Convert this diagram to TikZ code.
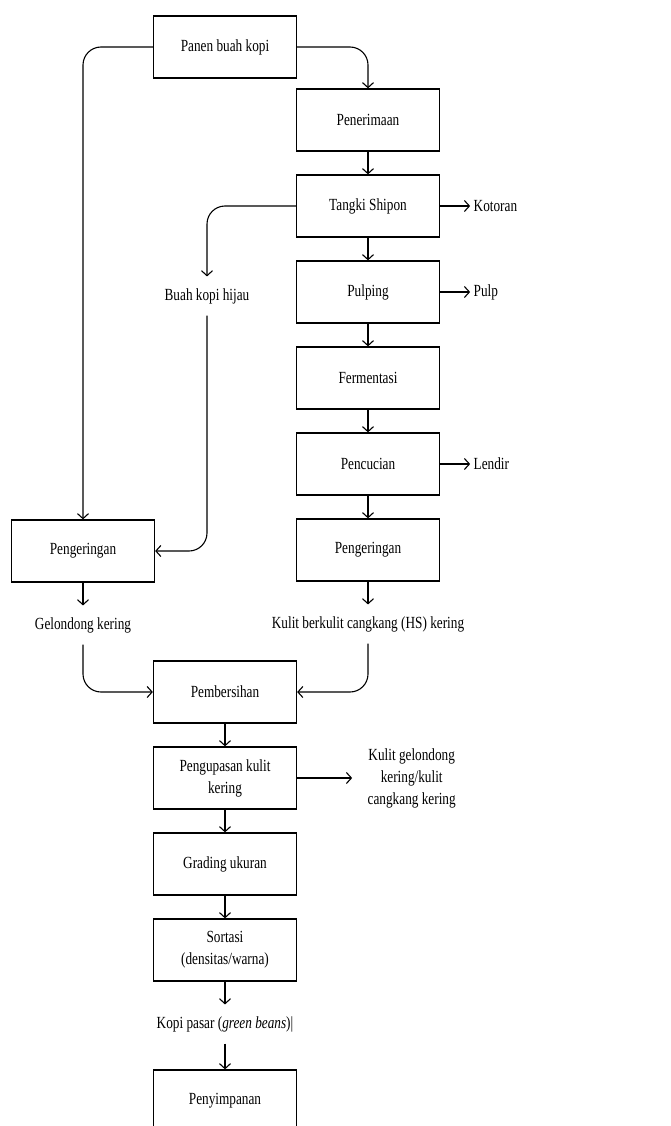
\documentclass[tikz,border=0pt]{standalone}
\usepackage{fontspec}
\setmainfont{Liberation Serif}[FakeStretch=0.78]
\usetikzlibrary{positioning,arrows.meta}

\begin{document}
\begin{tikzpicture}[x=1pt,y=-1pt,node distance=86pt,on grid,
   >={Straight Barb[length=5pt,width=11pt]},line width=1.1pt,
   every node/.style={font=\fontsize{17}{22}\selectfont},
   proc/.style={draw,line width=1.3pt,minimum width=143pt,minimum height=62pt,align=center,inner sep=2pt},
   txt/.style={minimum height=38pt,inner sep=0pt,align=center},
   side/.style={anchor=west,inner sep=3pt,align=center}]
   \clip (0,0) rectangle (670,1126);
   % wet process column
   \node[proc] (harvest) at (225,47) {Panen buah kopi};
   \node[proc] (receive) at (368,120) {Penerimaan};
   \node[proc] (tank) [below=of receive] {Tangki Shipon};
   \node[proc] (pulping) [below=of tank] {Pulping};
   \node[proc] (ferment) [below=of pulping] {Fermentasi};
   \node[proc] (wash) [below=of ferment] {Pencucian};
   \node[proc] (dry2) [below=of wash] {Pengeringan};
   \node[txt] (hs) [below=74pt of dry2] {Kulit berkulit cangkang (HS) kering};
   % dry process column
   \node[txt] (green) at (207,296) {Buah kopi hijau};
   \node[proc] (dry1) at (83,551) {Pengeringan};
   \node[txt] (log) [below=74pt of dry1] {Gelondong kering};
   % common part
   \node[proc] (clean) at (225,692) {Pembersihan};
   \node[proc] (peel) [below=of clean] {Pengupasan kulit\\kering};
   \node[proc] (grade) [below=of peel] {Grading ukuran};
   \node[proc] (sort) [below=of grade] {Sortasi\\(densitas/warna)};
   \node[txt] (market) [below=74pt of sort] {Kopi pasar (\textit{green beans})|};
   \node[proc] (store) [below=77pt of market] {Penyimpanan};
   % by-products
   \node[side] (dirt) at ([xshift=30pt]tank.east) {Kotoran};
   \node[side] (pulp) at ([xshift=30pt]pulping.east) {Pulp};
   \node[side] (slime) at ([xshift=30pt]wash.east) {Lendir};
   \node[side,inner xsep=15pt] (husk) at ([xshift=55pt]peel.east) {Kulit gelondong\\kering/kulit\\cangkang kering};

   \draw[->,rounded corners=18pt] (harvest.west) -| (dry1.north);
   \draw[->,rounded corners=18pt] (harvest.east) -| (receive.north);
   \draw[->,rounded corners=18pt] (tank.west) -| (green.north);
   \draw[->,rounded corners=18pt] (green.south) |- (dry1.east);
   \draw[->,rounded corners=18pt] (log.south) |- (clean.west);
   \draw[->,rounded corners=18pt] (hs.south) |- (clean.east);
   \foreach \a/\b in {receive/tank,tank/pulping,pulping/ferment,ferment/wash,wash/dry2,
      dry2/hs,dry1/log,clean/peel,peel/grade,grade/sort,sort/market,market/store,
      tank/dirt,pulping/pulp,wash/slime,peel/husk}
      \draw[->] (\a) -- (\b);
\end{tikzpicture}
\end{document}
